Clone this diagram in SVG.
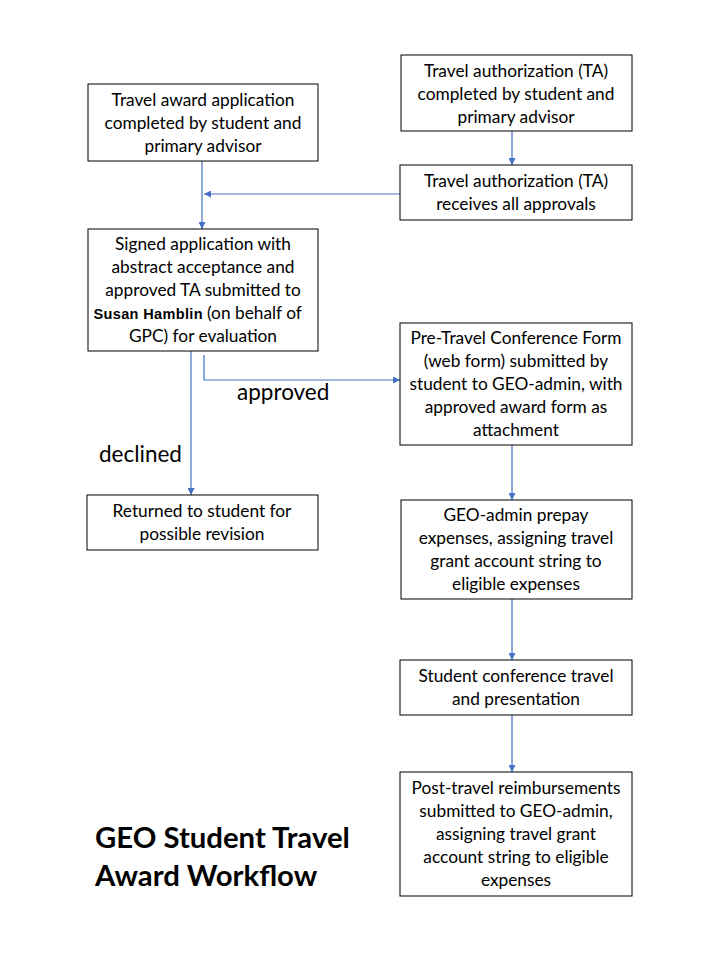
<svg xmlns="http://www.w3.org/2000/svg" width="720" height="960" viewBox="0 0 720 960">
<style>
.box{fill:#fff;stroke:#000;stroke-width:1}
.t{font-family:Lato,"Open Sans","Liberation Sans",sans-serif;font-size:17.3px;fill:#000;text-anchor:middle}
.c{fill:none;stroke:#4472C4;stroke-width:1.2}
.lbl{font-family:Lato,"Open Sans","Liberation Sans",sans-serif;font-size:22.5px;fill:#000}
.title{font-family:Lato,"Open Sans","Liberation Sans",sans-serif;font-size:29.3px;font-weight:bold;fill:#000}
.sh{font-family:"Liberation Sans",Arial,sans-serif;font-size:14.5px;font-weight:bold;fill:#000}
</style>
<defs>
<marker id="ah" viewBox="0 0 10 10" refX="10" refY="5" markerWidth="7" markerHeight="7" markerUnits="userSpaceOnUse" orient="auto">
<path d="M0,0 L10,5 L0,10 z" fill="#4472C4"/>
</marker>
</defs>
<rect width="720" height="960" fill="#fff"/>

<g id="connectors">
<path class="c" d="M202,161 V229" marker-end="url(#ah)"/>
<path class="c" d="M512,131 V165" marker-end="url(#ah)"/>
<path class="c" d="M400,194 H204" marker-end="url(#ah)"/>
<path class="c" d="M191,351 V495" marker-end="url(#ah)"/>
<path class="c" d="M204,355 V380 H400" marker-end="url(#ah)"/>
<path class="c" d="M512,445 V500" marker-end="url(#ah)"/>
<path class="c" d="M512,599 V660" marker-end="url(#ah)"/>
<path class="c" d="M512,715 V772" marker-end="url(#ah)"/>
<text class="lbl" x="237" y="400">approved</text>
<text class="lbl" x="99" y="462">declined</text>
</g>

<g id="award-application">
<rect class="box" x="88" y="84" width="230" height="77"/>
<text class="t" x="203" y="106">Travel award application</text>
<text class="t" x="203" y="129">completed by student and</text>
<text class="t" x="203" y="152">primary advisor</text>
</g>

<g id="ta-completed">
<rect class="box" x="401" y="55" width="231" height="76"/>
<text class="t" x="516" y="77">Travel authorization (TA)</text>
<text class="t" x="516" y="100">completed by student and</text>
<text class="t" x="516" y="123">primary advisor</text>
</g>

<g id="ta-approvals">
<rect class="box" x="400" y="165" width="232" height="55"/>
<text class="t" x="516" y="187">Travel authorization (TA)</text>
<text class="t" x="516" y="210">receives all approvals</text>
</g>

<g id="signed-application">
<rect class="box" x="88" y="229" width="230" height="122"/>
<text class="t" x="203" y="250">Signed application with</text>
<text class="t" x="203" y="273">abstract acceptance and</text>
<text class="t" x="203" y="296">approved TA submitted to</text>
<text class="sh" x="93.5" y="319" textLength="109" lengthAdjust="spacing">Susan Hamblin</text>
<text class="t" x="207" y="319" style="text-anchor:start">(on behalf of</text>
<text class="t" x="203" y="342">GPC) for evaluation</text>
</g>

<g id="pre-travel-form">
<rect class="box" x="400" y="323" width="232" height="122"/>
<text class="t" x="516" y="344">Pre-Travel Conference Form</text>
<text class="t" x="516" y="367">(web form) submitted by</text>
<text class="t" x="516" y="390">student to GEO-admin, with</text>
<text class="t" x="516" y="413">approved award form as</text>
<text class="t" x="516" y="436">attachment</text>
</g>

<g id="returned">
<rect class="box" x="87" y="495" width="231" height="55"/>
<text class="t" x="202" y="517">Returned to student for</text>
<text class="t" x="202" y="540">possible revision</text>
</g>

<g id="prepay">
<rect class="box" x="401" y="500" width="231" height="99"/>
<text class="t" x="516" y="521">GEO-admin prepay</text>
<text class="t" x="516" y="544">expenses, assigning travel</text>
<text class="t" x="516" y="567">grant account string to</text>
<text class="t" x="516" y="590">eligible expenses</text>
</g>

<g id="conference-travel">
<rect class="box" x="400" y="660" width="232" height="55"/>
<text class="t" x="516" y="682">Student conference travel</text>
<text class="t" x="516" y="705">and presentation</text>
</g>

<g id="post-travel">
<rect class="box" x="400" y="772" width="232" height="124"/>
<text class="t" x="516" y="794">Post-travel reimbursements</text>
<text class="t" x="516" y="817">submitted to GEO-admin,</text>
<text class="t" x="516" y="840">assigning travel grant</text>
<text class="t" x="516" y="863">account string to eligible</text>
<text class="t" x="516" y="886">expenses</text>
</g>

<g id="title">
<text class="title" x="95" y="848">GEO Student Travel</text>
<text class="title" x="95" y="886">Award Workflow</text>
</g>
</svg>
